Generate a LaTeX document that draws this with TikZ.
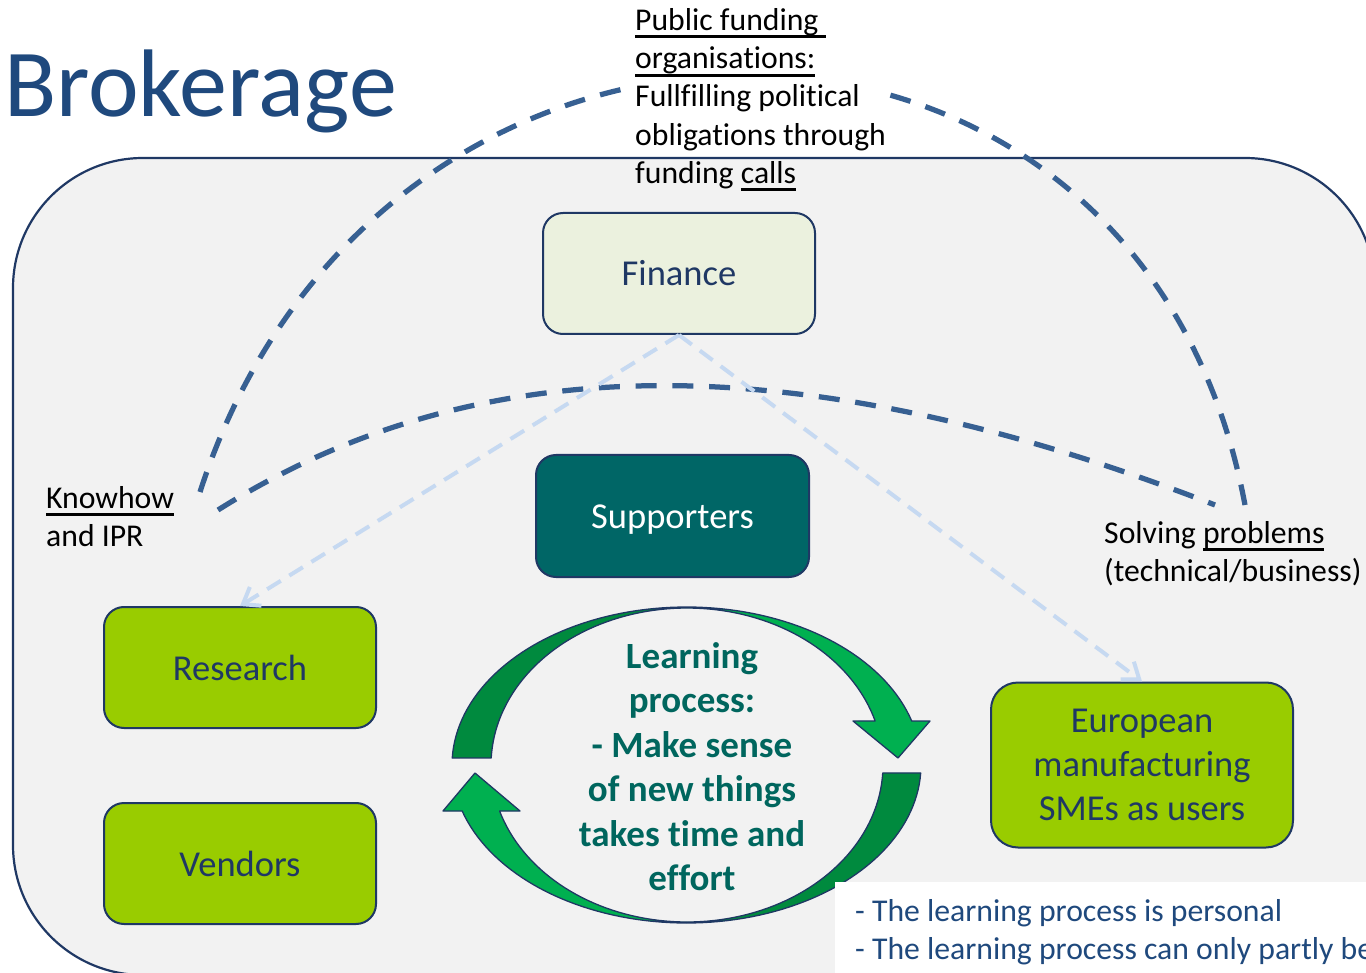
\documentclass[tikz,border=0pt]{standalone}
\usepackage{fontspec}
\setmainfont{Carlito}[Ligatures={NoCommon,NoContextual}]
\usetikzlibrary{arrows.meta}

% underline drawn at a fixed depth below the baseline
\newsavebox{\linedbox}
\newcommand{\lined}[1]{\sbox{\linedbox}{#1}\rlap{\rule[-8pt]{\wd\linedbox}{3pt}}\usebox{\linedbox}}

\definecolor{panel}{HTML}{F2F2F2}
\definecolor{navy}{HTML}{1F3864}
\definecolor{titleblue}{HTML}{1F497D}
\definecolor{linkblue}{HTML}{376092}
\definecolor{paleblue}{HTML}{C6D9F1}
\definecolor{limegreen}{HTML}{99CC00}
\definecolor{palegreen}{HTML}{EBF1DE}
\definecolor{supteal}{HTML}{006666}
\definecolor{learnteal}{HTML}{00665E}
\definecolor{arrowdark}{HTML}{008A3E}
\definecolor{arrowlight}{HTML}{00B050}

\begin{document}
\begin{tikzpicture}[x=1pt,y=-1pt,
  box/.style={draw=navy, line width=2pt, rounded corners=20pt,
    minimum width=272pt, minimum height=121pt, inner sep=0pt,
    font=\fontsize{36.5}{44}\selectfont, text=navy, align=center},
  oneline/.style={text height=28pt, text depth=3pt},
  labeltext/.style={font=\fontsize{31.7}{38.3}\selectfont, align=left,
    inner sep=0pt, anchor=north west, text=black},
  linkcurve/.style={draw=linkblue, line width=5.25pt,
    dash pattern=on 21pt off 15.75pt},
  feed/.style={draw=paleblue, line width=4pt,
    dash pattern=on 16pt off 10pt,
    -{Straight Barb[length=15pt,width=22pt]}},
  arrowedge/.style={draw=navy, line width=1.3pt, line join=round},
]
\useasboundingbox (0,0) rectangle (1366,973);
\clip (0,0) rectangle (1366,973);
\fill[white] (0,0) rectangle (1366,973);

% grey panel
\draw[draw=navy, fill=panel, line width=2.2pt, rounded corners=130pt]
  (13,158) rectangle (1375,975);

% title
\node[anchor=base west, inner sep=0pt, font=\fontsize{96}{104}\selectfont,
  text=titleblue] (title) at (4,117) {Brokerage};

% stakeholder boxes
\node[box, oneline, fill=palegreen] (finance) at (679,273.5) {Finance};
\node[box, oneline, fill=supteal, text=white, minimum width=273pt, minimum height=122pt]
  (supporters) at (672.5,516) {Supporters};
\node[box, oneline, fill=limegreen] (research) at (240,667.5) {Research};
\node[box, oneline, fill=limegreen] (vendors) at (240,863.5) {Vendors};
\node[box, fill=limegreen, minimum width=302pt, minimum height=165pt,
  rounded corners=27pt] (smes) at (1142,765)
  {European\\manufacturing\\SMEs as users};

% value labels
\node[labeltext] (knowhow) at (46,486) {\lined{Knowhow}\\and IPR};
\node[labeltext] (solving) at (1104,521)
  {Solving \lined{problems}\\(technical/business)};
\node[labeltext] (public) at (635,8)
  {\lined{Public funding\ }\\\lined{organisations:}\\Fullfilling political\\obligations through\\funding \lined{calls}};

% ends of the exchange curves
\coordinate (kh-a) at (200,492);
\coordinate (kh-b) at (218,510);
\coordinate (sp-a) at (1245,505);
\coordinate (sp-b) at (1215,505);

% exchange curves (outer one passes behind the funding text)
\begin{scope}[even odd rule]
  \clip (0,0) rectangle (1366,973) (628,40) rectangle (888,150);
  \draw[linkcurve] (kh-a) .. controls (380,-66) and (1138,-66) .. (sp-a);
\end{scope}
\draw[linkcurve] (kh-b) .. controls (480,345) and (803,345) .. (sp-b);

% funding flows
\draw[feed] (finance.south) -- (research.north);
\draw[feed] (finance.south) -- (smes.north);

% learning cycle: upper arrow
\fill[arrowdark]
  plot[domain=177.46:90, samples=40, variable=\a] ({686.5+234.5*cos(\a)},{765-158*sin(\a)})
  -- plot[domain=90:177.44, samples=40, variable=\a] ({687+196*cos(\a)},{765-157*sin(\a)})
  -- cycle;
\fill[arrowlight]
  plot[domain=90:16.17, samples=40, variable=\a] ({686.5+234.5*cos(\a)},{765-158*sin(\a)})
  -- (930,721) -- (898,758) -- (853,721)
  -- plot[domain=16.28:90, samples=40, variable=\a] ({687+196*cos(\a)},{765-157*sin(\a)})
  -- cycle;
\draw[arrowedge]
  plot[domain=177.46:16.17, samples=80, variable=\a] ({686.5+234.5*cos(\a)},{765-158*sin(\a)})
  -- (930,721) -- (898,758) -- (853,721)
  -- plot[domain=16.28:177.44, samples=80, variable=\a] ({687+196*cos(\a)},{765-157*sin(\a)})
  -- cycle;

% learning cycle: lower arrow
\fill[arrowdark]
  plot[domain=-2.90:-90, samples=40, variable=\a] ({686.5+234.5*cos(\a)},{765-158*sin(\a)})
  -- plot[domain=-90:-2.92, samples=40, variable=\a] ({687+196*cos(\a)},{765-157*sin(\a)})
  -- cycle;
\fill[arrowlight]
  plot[domain=-90:-163.07, samples=40, variable=\a] ({686.5+234.5*cos(\a)},{765-158*sin(\a)})
  -- (443,811) -- (475,773) -- (520,811)
  -- plot[domain=-162.96:-90, samples=40, variable=\a] ({687+196*cos(\a)},{765-157*sin(\a)})
  -- cycle;
\draw[arrowedge]
  plot[domain=-2.90:-163.07, samples=80, variable=\a] ({686.5+234.5*cos(\a)},{765-158*sin(\a)})
  -- (443,811) -- (475,773) -- (520,811)
  -- plot[domain=-162.96:-2.92, samples=80, variable=\a] ({687+196*cos(\a)},{765-157*sin(\a)})
  -- cycle;

\node[font=\bfseries\fontsize{37}{44.5}\selectfont, text=learnteal, align=center,
  inner sep=0pt] (learning) at (692,766.5)
  {Learning\\process:\\- Make sense\\of new things\\takes time and\\effort};

% notes panel
\fill[white] (835,882) rectangle (1366,973);
\node[labeltext, text=titleblue] (notes) at (855,899)
  {- The learning process is personal\\- The learning process can only partly be};
\end{tikzpicture}
\end{document}
